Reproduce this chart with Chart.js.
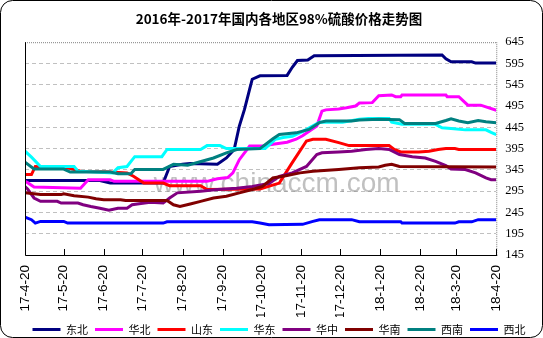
<!DOCTYPE html>
<html>
<head>
<meta charset="utf-8">
<script src="https://cdn.jsdelivr.net/npm/chart.js@4"></script>
<style>
  html, body { margin: 0; padding: 0; background: #fff; }
  #wrap { width: 543px; height: 338px; }
</style>
</head>
<body>
<div id="wrap"><canvas id="priceChart" width="543" height="338"></canvas></div>
<script>
// 2016-2017 regional 98% sulphuric acid prices, [day since 17-4-20, price]
const dongbei = [[0,320],[58,320],[66,314],[107,314],[112,353],[122,358],[128,360],[149,358],[156,373],[162,393],[166,448],[170,487],[174,535],[176,558],[182,566],[203,567],[207,586],[211,602],[219,603],[224,613],[323,615],[326,606],[330,599],[346,599],[349,596],[365,596]];
const huabei = [[0,318],[2,315],[7,305],[43,302],[49,322],[66,322],[69,318],[141,318],[149,324],[157,327],[161,338],[166,369],[174,401],[184,401],[192,405],[203,410],[210,417],[215,425],[226,448],[230,483],[233,486],[243,488],[249,491],[256,495],[259,502],[269,503],[274,519],[284,521],[287,517],[291,517],[292,521],[326,521],[327,517],[336,517],[343,497],[353,497],[357,493],[365,485]];
const shandong = [[0,334],[5,334],[8,353],[33,350],[43,342],[66,340],[79,338],[84,330],[92,314],[107,314],[112,308],[136,308],[141,299],[182,300],[197,314],[207,362],[218,413],[223,417],[233,417],[243,409],[251,402],[282,402],[286,393],[291,387],[305,387],[313,389],[320,393],[326,395],[333,395],[336,393],[365,393]];
const huadong = [[0,389],[5,375],[12,353],[38,353],[41,342],[68,338],[72,350],[79,353],[85,376],[106,376],[110,393],[136,393],[141,402],[151,402],[156,395],[186,395],[194,417],[200,421],[207,424],[215,435],[228,457],[246,457],[259,464],[266,466],[282,466],[284,457],[292,452],[318,452],[323,444],[330,442],[341,439],[357,439],[361,433],[365,428]];
const huazhong = [[0,306],[2,300],[7,279],[12,271],[25,271],[28,267],[41,267],[45,263],[51,259],[58,255],[65,250],[72,255],[79,255],[83,263],[87,265],[97,269],[107,267],[112,279],[118,291],[136,295],[149,299],[164,302],[176,306],[189,313],[197,330],[207,338],[218,353],[226,381],[230,385],[243,387],[253,389],[264,393],[274,395],[282,393],[290,381],[300,376],[310,373],[318,365],[326,355],[330,347],[341,346],[349,338],[357,326],[361,322],[365,322]];
const huanan = [[0,291],[12,287],[28,287],[30,289],[38,284],[49,281],[55,277],[61,275],[74,275],[78,273],[110,273],[115,263],[120,259],[128,265],[136,271],[146,279],[156,283],[166,291],[176,299],[184,306],[192,326],[203,332],[213,338],[223,342],[243,346],[259,350],[274,352],[279,356],[284,358],[290,353],[365,352]];
const xinan = [[0,363],[7,347],[30,347],[35,340],[66,340],[72,336],[82,336],[85,346],[107,346],[115,358],[126,356],[146,373],[156,385],[164,393],[182,395],[192,418],[197,428],[210,432],[220,440],[228,456],[233,460],[253,460],[259,462],[274,464],[290,463],[294,454],[318,454],[326,461],[330,465],[336,460],[343,456],[351,461],[357,458],[365,456]];
const xibei = [[0,234],[5,228],[8,220],[12,224],[30,224],[33,220],[107,220],[110,223],[176,223],[182,220],[189,216],[215,217],[223,224],[228,228],[253,228],[259,223],[291,223],[292,220],[333,220],[336,223],[346,223],[351,228],[365,228]];

const regions = ['东北', '华北', '山东', '华东', '华中', '华南', '西南', '西北'];
const regionSeries = [dongbei, huabei, shandong, huadong, huazhong, huanan, xinan, xibei];
const regionColors = ['#000080', '#ff00ff', '#ff0000', '#00ffff', '#800080', '#800000', '#008080', '#0000ff'];

const monthDays = [0, 30, 61, 91, 122, 153, 183, 214, 244, 275, 306, 334, 365];
const monthLabels = ['17-4-20', '17-5-20', '17-6-20', '17-7-20', '17-8-20', '17-9-20', '17-10-20', '17-11-20', '17-12-20', '18-1-20', '18-2-20', '18-3-20', '18-4-20'];
const priceTicks = [145, 195, 245, 295, 345, 395, 445, 495, 545, 595, 645];

// frame, watermark, inside tick marks and rounded outer border
const decorPlugin = {
    id: 'decor',
    beforeLayout(chart) {
        // fixed legend height so the row sits near the bottom edge
        const lg = chart.legend;
        if (lg && !lg._trimmed) {
            const fit = lg.fit.bind(lg);
            lg.fit = function () { fit(); this.height = 21; };
            lg._trimmed = true;
        }
    },
    beforeDraw(chart) {
        const ctx = chart.ctx;
        ctx.save();
        ctx.fillStyle = '#fff';
        ctx.fillRect(0, 0, chart.width, chart.height);
        ctx.restore();
    },
    beforeDatasetsDraw(chart) {
        const ctx = chart.ctx;
        const area = chart.chartArea;
        ctx.save();
        ctx.font = '28px "Liberation Sans", Arial, sans-serif';
        ctx.fillStyle = 'rgba(140,140,140,0.55)';
        ctx.textAlign = 'center';
        ctx.textBaseline = 'alphabetic';
        ctx.fillText('www.chinaccm.com', (area.left + area.right) / 2 + 16, 192);
        ctx.restore();
    },
    afterDatasetsDraw(chart) {
        const ctx = chart.ctx;
        const a = chart.chartArea;
        const xs = chart.scales.x;
        ctx.save();
        ctx.lineWidth = 1;
        // top and right dotted
        ctx.strokeStyle = '#808080';
        ctx.setLineDash([1, 1]);
        ctx.beginPath();
        ctx.moveTo(a.left, a.top + 0.5);
        ctx.lineTo(a.right, a.top + 0.5);
        ctx.moveTo(a.right + 0.5, a.top);
        ctx.lineTo(a.right + 0.5, a.bottom);
        ctx.stroke();
        // left and bottom solid
        ctx.setLineDash([]);
        ctx.strokeStyle = '#000';
        ctx.beginPath();
        ctx.moveTo(a.left + 0.5, a.top);
        ctx.lineTo(a.left + 0.5, a.bottom + 0.5);
        ctx.lineTo(a.right + 1, a.bottom + 0.5);
        // tick marks pointing into the plot
        xs.ticks.forEach((t, i) => {
            const px = Math.round(xs.getPixelForTick(i)) + 0.5;
            ctx.moveTo(px, a.bottom);
            ctx.lineTo(px, a.bottom - 6);
        });
        ctx.stroke();
        ctx.restore();
    },
    afterDraw(chart) {
        const ctx = chart.ctx;
        ctx.save();
        ctx.strokeStyle = '#000';
        ctx.lineWidth = 1;
        ctx.beginPath();
        ctx.roundRect(0.5, 0.5, chart.width - 1, chart.height - 1, 12);
        ctx.stroke();
        ctx.restore();
    }
};

const datasets = regions.map((name, i) => ({
    label: name,
    data: regionSeries[i].map(p => ({ x: p[0], y: p[1] })),
    borderColor: regionColors[i],
    backgroundColor: regionColors[i],
    borderWidth: 3,
    pointRadius: 0,
    tension: 0,
    fill: false,
    order: regions.length - i
}));

new Chart(document.getElementById('priceChart').getContext('2d'), {
    type: 'line',
    data: { datasets: datasets },
    options: {
        responsive: false,
        animation: false,
        devicePixelRatio: 1,
        layout: { padding: { left: 25, right: 10, top: 0, bottom: 0 } },
        scales: {
            x: {
                type: 'linear',
                min: 0,
                max: 365,
                afterBuildTicks: scale => { scale.ticks = monthDays.map(v => ({ value: v })); },
                afterFit: scale => { scale.height = 62; },
                grid: { display: false, drawTicks: false },
                border: { display: false },
                ticks: {
                    autoSkip: false,
                    minRotation: 90,
                    maxRotation: 90,
                    padding: 10,
                    color: '#000',
                    font: { family: '"Liberation Sans", Arial, sans-serif', size: 13.5 },
                    callback: (v, i) => monthLabels[i]
                }
            },
            y: {
                position: 'right',
                min: 145,
                max: 645,
                afterBuildTicks: scale => { scale.ticks = priceTicks.map(v => ({ value: v })); },
                grid: {
                    color: ctx => (ctx.tick && ctx.tick.value === 645) ? 'rgba(0,0,0,0)' : '#c0c0c0',
                    drawTicks: false
                },
                border: { display: false, dash: [4, 3] },
                ticks: {
                    padding: 9,
                    color: '#000',
                    font: { family: '"Liberation Serif", serif', size: 12.5 }
                }
            }
        },
        plugins: {
            title: {
                display: true,
                text: '2016年-2017年国内各地区98%硫酸价格走势图',
                color: '#000',
                font: { family: '"Noto Sans CJK SC", sans-serif', size: 13.5, weight: 'bold' },
                padding: { top: 11, bottom: 15 }
            },
            legend: {
                position: 'bottom',
                labels: {
                    boxWidth: 28,
                    boxHeight: 3,
                    padding: 7,
                    color: '#000',
                    font: { family: '"Noto Sans CJK SC", sans-serif', size: 11 },
                    sort: (a, b) => a.datasetIndex - b.datasetIndex,
                    generateLabels: chart => Chart.defaults.plugins.legend.labels.generateLabels(chart)
                        .map(l => Object.assign(l, { lineWidth: 0 }))
                }
            },
            tooltip: { enabled: false }
        }
    },
    plugins: [decorPlugin]
});
</script>
</body>
</html>
